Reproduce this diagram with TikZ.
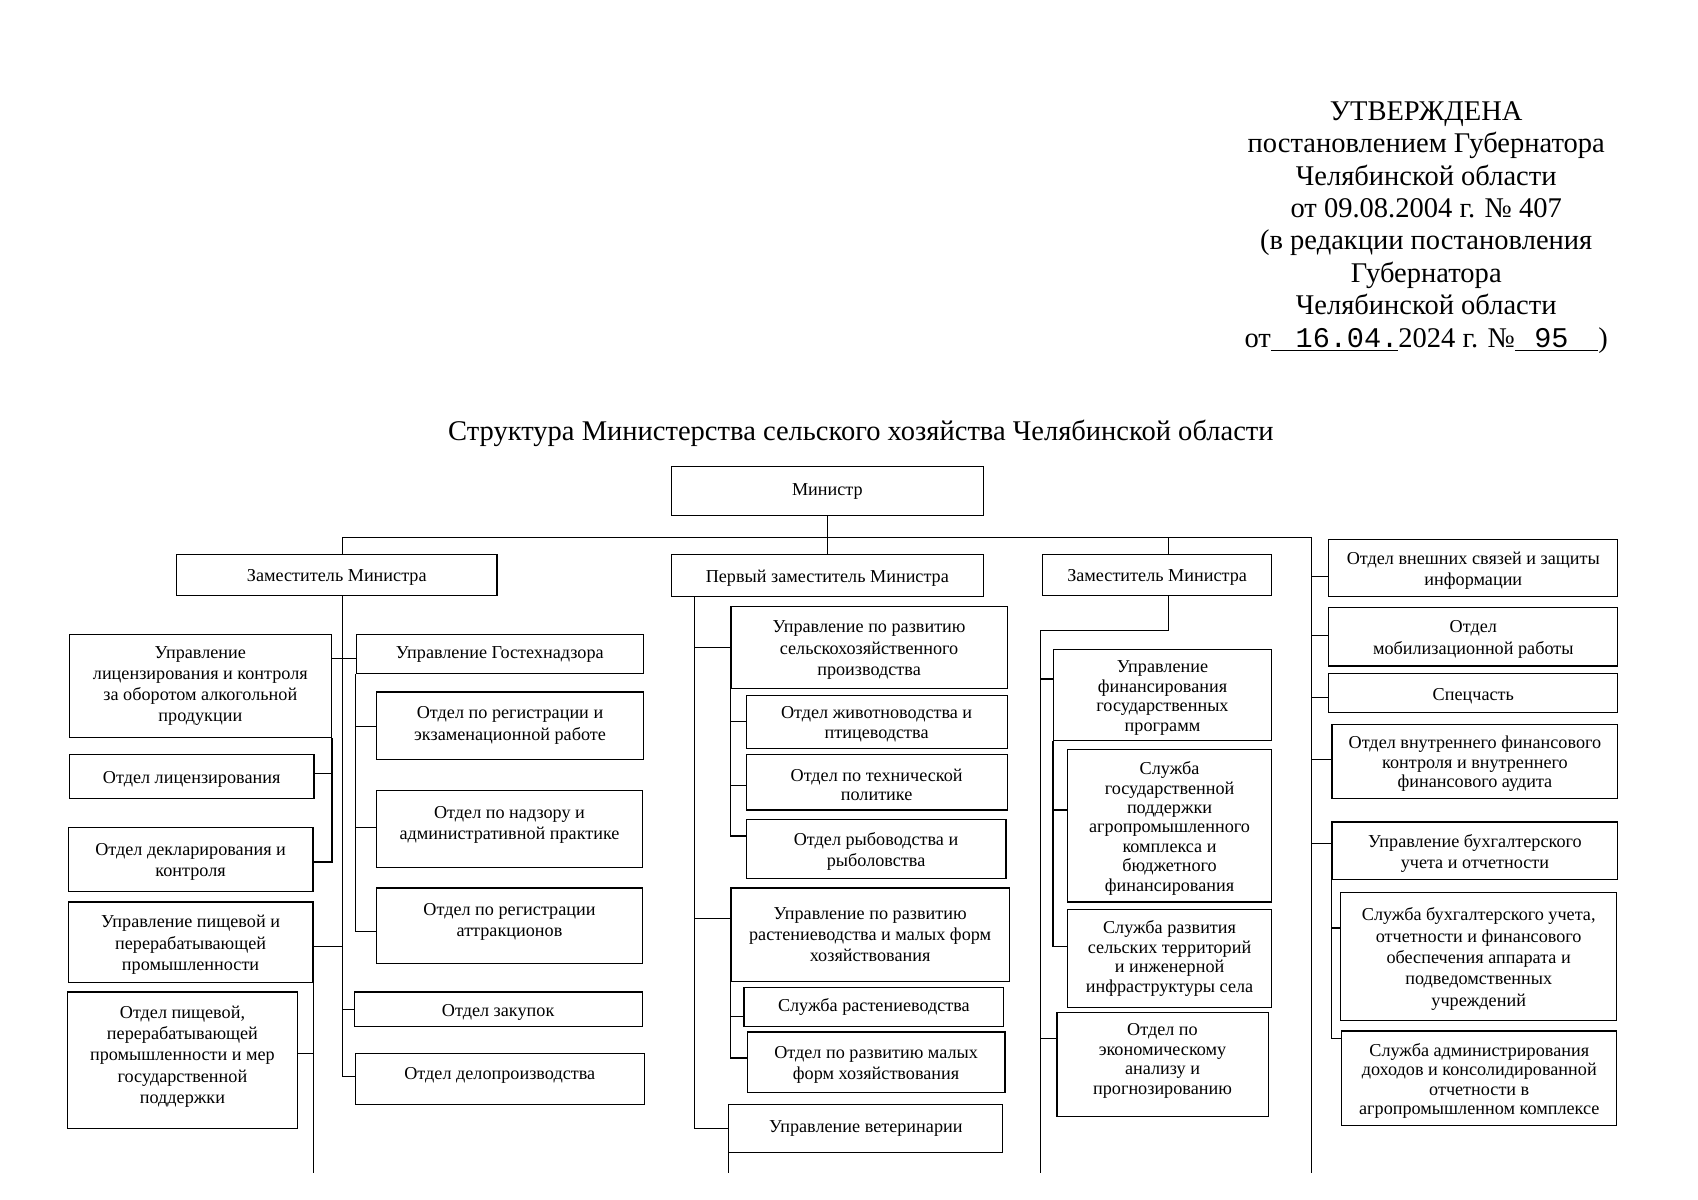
\documentclass[tikz,border=0pt]{standalone}
\usepackage{fontspec}
\setmainfont{Liberation Serif}
\newfontfamily\monofont{Liberation Mono}
\usetikzlibrary{fit}

\tikzset{
  box/.style={draw, line width=0.6pt, inner sep=0pt},
  txt/.style={align=center, inner sep=0pt, yshift=-0.47mm, font=\fontsize{9.05}{10.6}\selectfont},
  tight/.style={font=\fontsize{9.05}{9.7}\selectfont},
  mid/.style={yshift=0.47mm},
  upper/.style={yshift=1.13mm},
  link/.style={line width=0.6pt}
}

\begin{document}
\begin{tikzpicture}[x=0.18941mm, y=-0.18941mm]
    \useasboundingbox (0,0) rectangle (1568,1108);

    % Approval stamp
    \node[align=center, font=\fontsize{14.2}{16.1}\selectfont] (utv) at (1317,210) {УТВЕРЖДЕНА\\
        постановлением Губернатора\\ Челябинской области\\ от 09.08.2004 г. № 407\\
        (в редакции постановления\\ Губернатора\\ Челябинской области\\
        от\underline{\makebox[22.3mm][r]{\monofont 16.04.}}2024 г. №\underline{\makebox[14.6mm][l]{\hspace{3.4mm}\monofont 95}})};

    % Title
    \node[font=\fontsize{14.2}{16}\selectfont] (title) at (795,400) {Структура Министерства сельского хозяйства Челябинской области};

    % Minister and deputies
    \node[box, fit={(620,431) (908,476)}, label={[txt, mid]center:Министр}] (min) {};
    \node[box, fit={(163,512) (459,550)}, label={[txt]center:Заместитель Министра}] (dep1) {};
    \node[box, fit={(620,512) (908,551)}, label={[txt]center:Первый заместитель Министра}] (pz) {};
    \node[box, fit={(963,512) (1174,550)}, label={[txt]center:Заместитель Министра}] (z2) {};

    % Left branch
    \node[box, fit={(64,586) (306,681)}, label={[txt, mid]center:{Управление\\ лицензирования и контроля\\ за оборотом алкогольной\\ продукции}}] (ulk) {};
    \node[box, fit={(64,697) (290,737)}, label={[txt]center:Отдел лицензирования}] (olic) {};
    \node[box, fit={(63,764) (289,823)}, label={[txt]center:{Отдел декларирования и\\ контроля}}] (odk) {};
    \node[box, fit={(63,833) (289,907)}, label={[txt]center:{Управление пищевой и\\ перерабатывающей\\ промышленности}}] (upp) {};
    \node[box, fit={(62,916) (275,1042)}, label={[txt, upper]center:{Отдел пищевой,\\ перерабатывающей\\ промышленности и мер\\ государственной\\ поддержки}}] (opp) {};
    \node[box, fit={(329,586) (594,622)}, label={[txt, mid]center:Управление Гостехнадзора}] (gtn) {};
    \node[box, fit={(348,639) (594,701)}, label={[txt, mid]center:{Отдел по регистрации и\\ экзаменационной работе}}] (oreg) {};
    \node[box, fit={(348,730) (593,801)}, label={[txt, upper]center:{Отдел по надзору и\\ административной практике}}] (onadz) {};
    \node[box, fit={(348,820) (593,890)}, label={[txt, upper]center:{Отдел по регистрации\\ аттракционов}}] (oattr) {};
    \node[box, fit={(327,916) (593,948)}, label={[txt]center:Отдел закупок}] (zakup) {};
    \node[box, fit={(328,973) (595,1020)}, label={[txt, upper]center:Отдел делопроизводства}] (delo) {};

    % Central branch
    \node[box, fit={(675,560) (930,636)}, label={[txt]center:{Управление по развитию\\ сельскохозяйственного\\ производства}}] (ursp) {};
    \node[box, fit={(689,642) (930,691)}, label={[txt, tight]center:{Отдел животноводства и\\ птицеводства}}] (ozhiv) {};
    \node[box, fit={(689,697) (930,748)}, label={[txt, tight]center:{Отдел по технической\\ политике}}] (otech) {};
    \node[box, fit={(689,757) (929,811)}, label={[txt]center:{Отдел рыбоводства и\\ рыболовства}}] (oryb) {};
    \node[box, fit={(675,820) (932,906)}, label={[txt, mid]center:{Управление по развитию\\ растениеводства и малых форм\\ хозяйствования}}] (urrast) {};
    \node[box, fit={(687,912) (927,948)}, label={[txt, mid]center:Служба растениеводства}] (srast) {};
    \node[box, fit={(690,953) (928,1009)}, label={[txt]center:{Отдел по развитию малых\\ форм хозяйствования}}] (omal) {};
    \node[box, fit={(673,1020) (926,1064)}, label={[txt, mid]center:Управление ветеринарии}] (uvet) {};

    % Second deputy branch
    \node[box, fit={(973,600) (1174,684)}, label={[txt, tight]center:{Управление\\ финансирования\\ государственных\\ программ}}] (ufgp) {};
    \node[box, fit={(986,692) (1174,833)}, label={[txt, tight]center:{Служба\\ государственной\\ поддержки\\ агропромышленного\\ комплекса и\\ бюджетного\\ финансирования}}] (sgp) {};
    \node[box, fit={(986,840) (1174,930)}, label={[txt, tight, mid]center:{Служба развития\\ сельских территорий\\ и инженерной\\ инфраструктуры села}}] (srst) {};
    \node[box, fit={(976,935) (1171,1031)}, label={[txt, tight, upper]center:{Отдел по\\ экономическому\\ анализу и\\ прогнозированию}}] (oeap) {};

    % Right branch
    \node[box, fit={(1227,498) (1494,551)}, label={[txt]center:{Отдел внешних связей и защиты\\ информации}}] (ovs) {};
    \node[box, fit={(1227,561) (1494,615)}, label={[txt]center:{Отдел\\ мобилизационной работы}}] (omob) {};
    \node[box, fit={(1227,622) (1494,658)}, label={[txt]center:Спецчасть}] (spec) {};
    \node[box, fit={(1230,669) (1494,737)}, label={[txt, tight]center:{Отдел внутреннего финансового\\ контроля и внутреннего\\ финансового аудита}}] (ovfk) {};
    \node[box, fit={(1230,759) (1494,812)}, label={[txt]center:{Управление бухгалтерского\\ учета и отчетности}}] (ubuh) {};
    \node[box, fit={(1238,824) (1493,942)}, label={[txt]center:{Служба бухгалтерского учета,\\ отчетности и финансового\\ обеспечения аппарата и\\ подведомственных\\ учреждений}}] (sbuh) {};
    \node[box, fit={(1239,952) (1493,1039)}, label={[txt, tight]center:{Служба администрирования\\ доходов и консолидированной\\ отчетности в\\ агропромышленном комплексе}}] (sadm) {};

    % Bus and spines
    \coordinate (lbus) at (316,496);
    \coordinate (rbus) at (1211,496);
    \coordinate (zb) at (1079,496);
    \coordinate (zsp) at (961,582);
    \coordinate (csp) at (641,551);
    \coordinate (bot) at (0,1083);
    \draw[link] (lbus) -- (rbus) -- (rbus |- bot);
    \draw[link] (min.south) -- (pz.north);
    \draw[link] (lbus) -- (lbus |- dep1.north);
    \draw[link] (zb) -- (zb |- z2.north);

    % Left links
    \draw[link] (lbus |- dep1.south) |- (delo.west |- 0,994);
    \draw[link] (ulk.east |- 0,608) -- (gtn.west |- 0,608);
    \draw[link] (upp.east |- 0,874) -- (lbus |- 0,874);
    \draw[link] (lbus |- zakup.west) -- (zakup.west);
    \draw[link] (ulk.south east) |- (odk.east |- 0,796);
    \draw[link] (olic.east |- 0,714) -- (ulk.south east |- 0,714);
    \draw[link] (upp.south east) -- (upp.south east |- bot);
    \draw[link] (opp.east |- 0,973) -- (upp.south east |- 0,973);
    \draw[link] (gtn.south west) |- (oattr.west |- 0,860);
    \foreach \b/\y in {oreg/671, onadz/764}
        \draw[link] (gtn.south west |- 0,\y) -- (\b.west |- 0,\y);

    % Central links
    \draw[link] (csp) |- (uvet.west);
    \foreach \b/\y in {ursp/598, urrast/848}
        \draw[link] (csp |- 0,\y) -- (\b.west |- 0,\y);
    \draw[link] (ursp.south west) |- (oryb.west |- 0,772);
    \foreach \b/\y in {ozhiv/666, otech/725}
        \draw[link] (ursp.south west |- 0,\y) -- (\b.west |- 0,\y);
    \draw[link] (urrast.south west) |- (omal.west |- 0,977);
    \draw[link] (urrast.south west |- 0,939) -- (srast.west |- 0,939);
    \draw[link] (uvet.south west) -- (uvet.south west |- bot);

    % Second deputy links
    \draw[link] (zb |- z2.south) |- (zsp) -- (zsp |- bot);
    \foreach \b/\y in {ufgp/627, oeap/959}
        \draw[link] (zsp |- 0,\y) -- (\b.west |- 0,\y);
    \draw[link] (ufgp.south west) |- (srst.west |- 0,874);
    \draw[link] (ufgp.south west |- 0,748) -- (sgp.west |- 0,748);

    % Right links
    \foreach \b/\y in {ovs/532, omob/587, spec/644, ovfk/701, ubuh/779}
        \draw[link] (rbus |- 0,\y) -- (\b.west |- 0,\y);
    \draw[link] (ubuh.south west) |- (sadm.west |- 0,959);
    \draw[link] (ubuh.south west |- 0,857) -- (sbuh.west |- 0,857);
\end{tikzpicture}
\end{document}
